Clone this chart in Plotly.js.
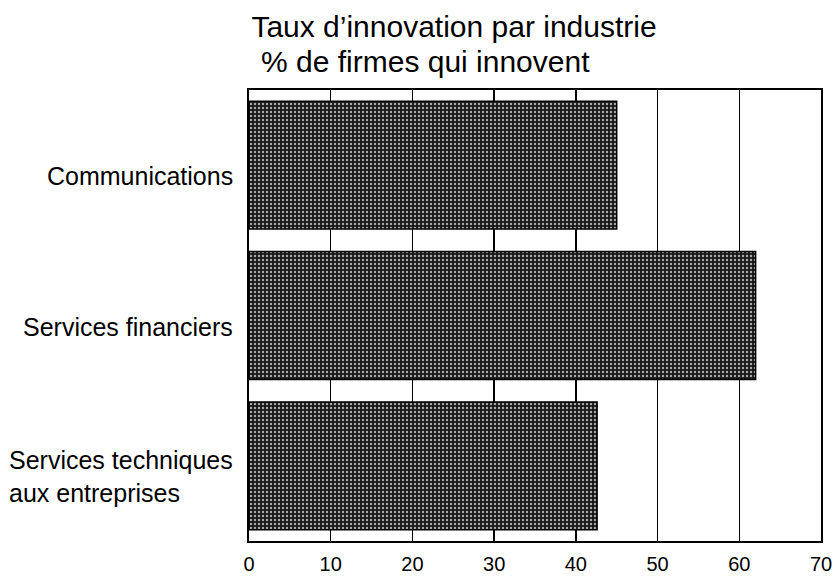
<!DOCTYPE html>
<html>
<head>
<meta charset="utf-8">
<script src="https://cdn.plot.ly/plotly-3.0.1.min.js"></script>
<style>
  html, body { margin: 0; padding: 0; background: #fff; }
  #chart { width: 835px; height: 577px; }
</style>
</head>
<body>
<div id="chart"></div>
<script>
// Data
const categories = ["Communications", "Services financiers", "Services techniques<br>aux entreprises"];
const values = [45, 62, 42.6];
const xTicks = [0, 10, 20, 30, 40, 50, 60, 70];
const titleLine1 = "Taux d\u2019innovation par industrie";
const titleLine2 = "% de firmes qui innovent";

const FONT = '"Liberation Sans", Arial, sans-serif';

const trace = {
  type: 'bar',
  orientation: 'h',
  y: categories,
  x: values,
  marker: {
    color: '#2a2a2a',
    line: { color: '#000', width: 1.5 },
    pattern: { shape: '.', fgcolor: '#a8a8a8', bgcolor: '#161616', size: 4, solidity: 0.3 }
  },
  hoverinfo: 'x+y'
};

const annotations = categories.map(c => ({
  xref: 'paper', yref: 'y', x: 0, y: c,
  xanchor: 'right', yanchor: 'middle',
  xshift: -14, yshift: -11,
  align: 'left',
  text: c,
  showarrow: false,
  font: { family: FONT, size: 25, color: '#000' }
}));

annotations.push({
  xref: 'paper', yref: 'paper',
  x: (425 - 249) / (821 - 249), y: 1,
  xanchor: 'center', yanchor: 'bottom',
  yshift: 10,
  text: titleLine2,
  showarrow: false,
  font: { family: FONT, size: 30, color: '#000' }
});

const layout = {
  width: 835,
  height: 577,
  margin: { l: 249, r: 14, t: 90, b: 36, pad: 0 },
  paper_bgcolor: '#fff',
  plot_bgcolor: '#fff',
  showlegend: false,
  bargap: 0.15,
  font: { family: FONT, color: '#000' },
  title: {
    text: titleLine1,
    font: { family: FONT, size: 30, color: '#000' },
    x: 454 / 835, xanchor: 'center', xref: 'container',
    y: 1 - 37 / 577, yanchor: 'bottom', yref: 'container'
  },
  xaxis: {
    range: [0, 70],
    tickvals: xTicks,
    ticktext: xTicks.map(String),
    showgrid: true,
    gridcolor: '#000',
    gridwidth: 1.5,
    zeroline: false,
    showline: true,
    linecolor: '#000',
    linewidth: 2,
    mirror: true,
    ticks: '',
    ticklabelstandoff: 4,
    tickfont: { family: FONT, size: 20, color: '#000' },
    fixedrange: true
  },
  yaxis: {
    type: 'category',
    categoryorder: 'array',
    categoryarray: categories,
    autorange: 'reversed',
    showgrid: false,
    zeroline: false,
    showline: true,
    linecolor: '#000',
    linewidth: 2,
    mirror: true,
    ticks: '',
    showticklabels: false,
    fixedrange: true
  },
  annotations: annotations
};

Plotly.newPlot('chart', [trace], layout, { displayModeBar: false, staticPlot: true });
</script>
</body>
</html>
